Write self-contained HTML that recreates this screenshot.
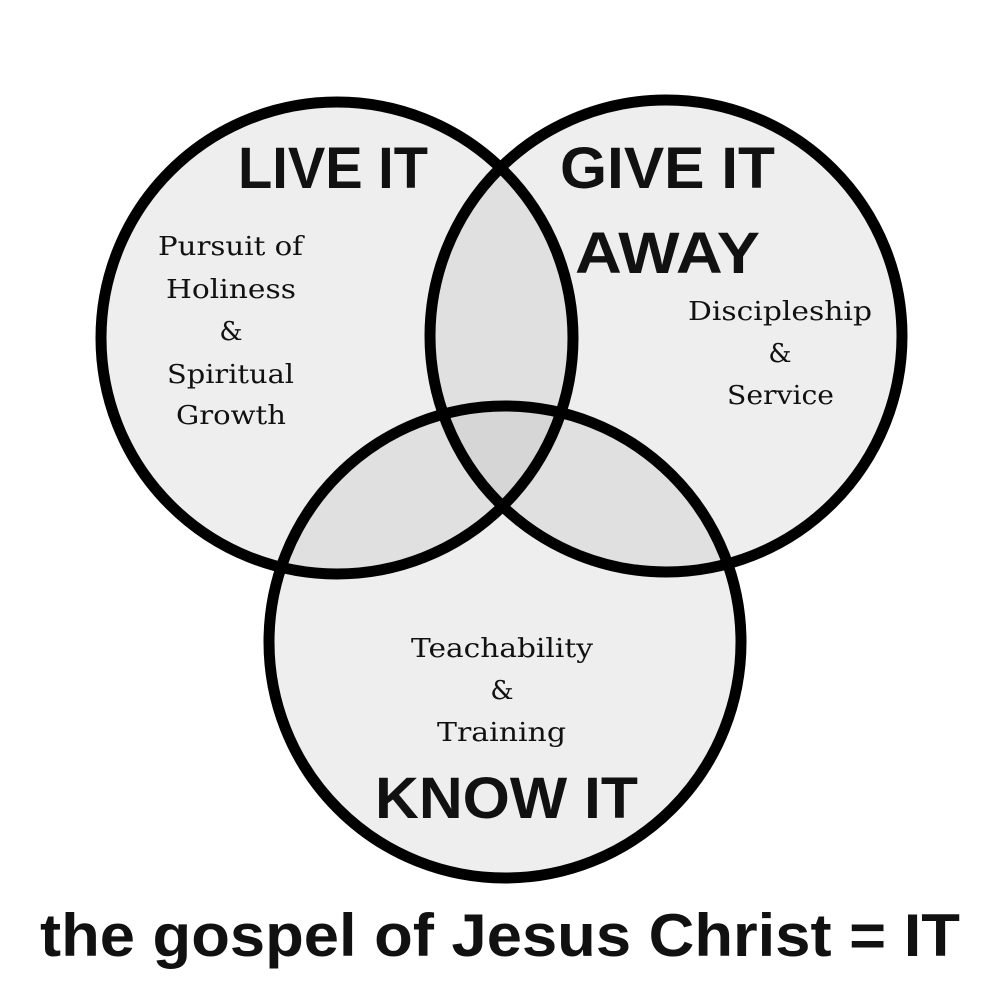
<!DOCTYPE html>
<html><head><style>
html,body{margin:0;padding:0;background:#fff;}
</style></head><body>
<svg width="1000" height="1000" viewBox="0 0 1000 1000" xmlns="http://www.w3.org/2000/svg">
<rect width="1000" height="1000" fill="#fff"/>
<g fill="#b0b0b0" fill-opacity="0.22">
<circle cx="337" cy="338" r="238"/>
<circle cx="666" cy="336" r="238"/>
<circle cx="505" cy="642" r="238"/>
</g>
<g fill="none" stroke="#000" stroke-width="11">
<circle cx="337" cy="338" r="236"/>
<circle cx="666" cy="336" r="236"/>
<circle cx="505" cy="642" r="236"/>
</g>
<g font-family="Liberation Sans, sans-serif" font-weight="bold" fill="#111" lengthAdjust="spacingAndGlyphs">
<text x="238" y="188" font-size="58" textLength="190" lengthAdjust="spacingAndGlyphs">LIVE IT</text>
<text x="560" y="188" font-size="58" textLength="215" lengthAdjust="spacingAndGlyphs">GIVE IT</text>
<text x="575" y="273" font-size="58" textLength="185" lengthAdjust="spacingAndGlyphs">AWAY</text>
<text x="375" y="818" font-size="58" textLength="263" lengthAdjust="spacingAndGlyphs">KNOW IT</text>
<text x="40" y="956" font-size="60" textLength="920" lengthAdjust="spacingAndGlyphs">the gospel of Jesus Christ = IT</text>
</g>
<g font-family="DejaVu Serif, serif" font-size="26" fill="#111">
<text x="158" y="255" textLength="145" lengthAdjust="spacingAndGlyphs">Pursuit of</text>
<text x="166" y="298" textLength="130" lengthAdjust="spacingAndGlyphs">Holiness</text>
<text x="231" y="340" text-anchor="middle">&amp;</text>
<text x="167" y="383" textLength="127" lengthAdjust="spacingAndGlyphs">Spiritual</text>
<text x="176" y="424" textLength="110" lengthAdjust="spacingAndGlyphs">Growth</text>
<text x="688" y="320" textLength="184" lengthAdjust="spacingAndGlyphs">Discipleship</text>
<text x="780" y="362" text-anchor="middle">&amp;</text>
<text x="727" y="404" textLength="107" lengthAdjust="spacingAndGlyphs">Service</text>
<text x="411" y="657" textLength="182" lengthAdjust="spacingAndGlyphs">Teachability</text>
<text x="502" y="699" text-anchor="middle">&amp;</text>
<text x="437" y="741" textLength="129" lengthAdjust="spacingAndGlyphs">Training</text>
</g>
</svg>
</body></html>
